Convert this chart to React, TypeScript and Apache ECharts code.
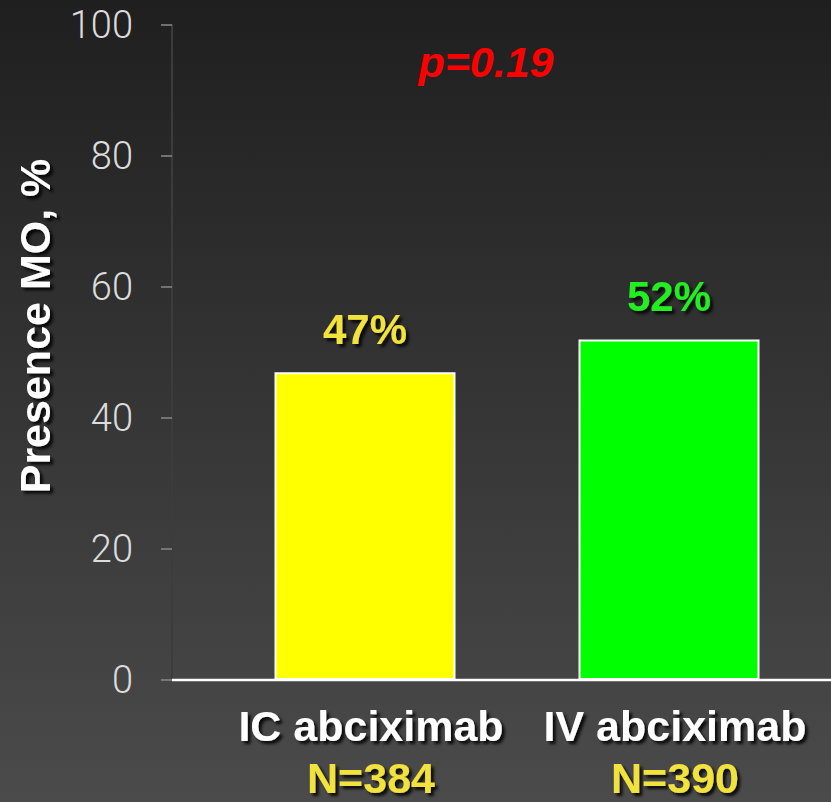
import React, { useEffect, useRef } from "react";
import * as echarts from "echarts";

const categories = ["IC abciximab", "IV abciximab"];
const sampleSizes = ["384", "390"];
const presenceMO = [47, 52];
const barColors = ["#ffff00", "#00ff00"];
const labelColors = ["#f2e23c", "#22ee22"];
const yTicks = [0, 20, 40, 60, 80, 100];
const pValueText = "p=0.19";
const yAxisTitle = "Presence MO, %";

const shadow = {
  textShadowColor: "rgba(0,0,0,0.85)",
  textShadowBlur: 3,
  textShadowOffsetX: 3,
  textShadowOffsetY: 3,
};

export default function App() {
  const ref = useRef<HTMLDivElement>(null);

  useEffect(() => {
    if (!ref.current) return;
    const chart = echarts.init(ref.current, null, { renderer: "svg" });
    const boldFont = "'Liberation Sans', Arial, sans-serif";

    chart.setOption({
      animation: false,
      backgroundColor: new echarts.graphic.LinearGradient(0, 0, 0, 1, [
        { offset: 0, color: "#1f1f1f" },
        { offset: 1, color: "#4b4b4b" },
      ]),
      grid: { left: 213, right: 10, top: 25, bottom: 122 },
      xAxis: {
        type: "category",
        data: categories,
        axisLine: { show: false },
        axisTick: { show: false },
        axisLabel: {
          margin: 20,
          interval: 0,
          formatter: (v: string, i: number) => `{name|${v}}\n{n|N=${sampleSizes[i]}}`,
          rich: {
            name: {
              color: "#ffffff",
              fontFamily: boldFont,
              fontWeight: "bold",
              fontSize: 43,
              lineHeight: 52,
              padding: [0, 0, 0, 12],
              ...shadow,
            },
            n: {
              color: "#f2e23c",
              fontFamily: boldFont,
              fontWeight: "bold",
              fontSize: 43,
              lineHeight: 52,
              padding: [0, 0, 0, 12],
              ...shadow,
            },
          },
        },
      },
      yAxis: {
        type: "value",
        min: yTicks[0],
        max: yTicks[yTicks.length - 1],
        interval: 20,
        offset: 41,
        axisLine: { show: true, lineStyle: { color: "#3c3c3c", width: 2 } },
        axisTick: { show: true, length: 11, lineStyle: { color: "#8a8a8a", width: 1.5 } },
        axisLabel: {
          margin: 39,
          color: "#dcdcdc",
          fontFamily: "Roboto, sans-serif",
          fontWeight: 300,
          fontSize: 38,
        },
        splitLine: { show: false },
      },
      series: [
        {
          type: "bar",
          barWidth: 181,
          data: presenceMO.map((v, i) => ({
            value: v,
            itemStyle: { color: barColors[i] },
            label: { color: labelColors[i] },
          })),
          itemStyle: { borderColor: "#ffffff", borderWidth: 2 },
          label: {
            show: true,
            position: "top",
            distance: 22,
            formatter: "{c}%",
            fontFamily: boldFont,
            fontWeight: "bold",
            fontSize: 42,
            ...shadow,
          },
        },
      ],
      graphic: [
        {
          type: "line",
          shape: { x1: 172, y1: 680, x2: 831, y2: 680 },
          style: { stroke: "#ffffff", lineWidth: 2.5 },
          z: 10,
        },
        {
          type: "text",
          x: 486,
          y: 62,
          style: {
            text: pValueText,
            fill: "#ff0000",
            font: `italic bold 43px ${boldFont}`,
            textAlign: "center",
            textVerticalAlign: "middle",
          },
        },
        {
          type: "text",
          x: 35,
          y: 326,
          rotation: Math.PI / 2,
          style: {
            text: yAxisTitle,
            fill: "#ffffff",
            font: `bold 43px ${boldFont}`,
            textAlign: "center",
            textVerticalAlign: "middle",
            textShadowColor: "rgba(0,0,0,0.85)",
            textShadowBlur: 3,
            textShadowOffsetX: -3,
            textShadowOffsetY: 3,
          },
        },
      ],
    });

    return () => chart.dispose();
  }, []);

  return (
    <div
      ref={ref}
      style={{ position: "fixed", left: 0, top: 0, width: 831, height: 802 }}
    />
  );
}
